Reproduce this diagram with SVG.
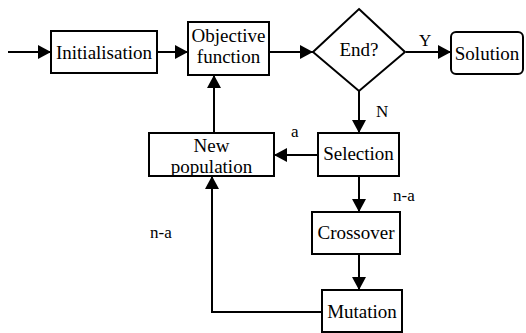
<svg xmlns="http://www.w3.org/2000/svg" width="526" height="333" viewBox="0 0 526 333">
<style>
.b{fill:#fff;stroke:#000;stroke-width:2}
.t{font-family:"Times New Roman","Liberation Serif",Tinos,serif;font-size:19px;fill:#000;text-anchor:middle}
.l{font-family:"Times New Roman","Liberation Serif",Tinos,serif;font-size:17px;fill:#000}
.c{fill:none;stroke:#000;stroke-width:2}
</style>
<defs>
<marker id="ah" markerWidth="13" markerHeight="14" viewBox="0 0 13 14" refX="13" refY="7" orient="auto" markerUnits="userSpaceOnUse">
<path d="M0,0 L13,7 L0,14 Z" fill="#000"/>
</marker>
</defs>
<rect width="526" height="333" fill="#fff"/>
<g id="connectors">
<path class="c" d="M8,52 H51" marker-end="url(#ah)"/>
<path class="c" d="M157,52 H188" marker-end="url(#ah)"/>
<path class="c" d="M269,52 H313" marker-end="url(#ah)"/>
<path class="c" d="M406,52 H451" marker-end="url(#ah)"/>
<path class="c" d="M359,91 V133" marker-end="url(#ah)"/>
<path class="c" d="M318,155 H274" marker-end="url(#ah)"/>
<path class="c" d="M214,133 V75" marker-end="url(#ah)"/>
<path class="c" d="M359,176 V212" marker-end="url(#ah)"/>
<path class="c" d="M359,254 V290" marker-end="url(#ah)"/>
<path class="c" d="M322,312 H212 V176" marker-end="url(#ah)"/>
</g>
<g id="initialisation">
<rect class="b" x="51" y="31" width="106" height="42"/>
<text class="t" x="104" y="59">Initialisation</text>
</g>
<g id="objective">
<rect class="b" x="188" y="22" width="81" height="53"/>
<text class="t" x="228.5" y="42">Objective</text>
<text class="t" x="228.5" y="63">function</text>
</g>
<g id="end">
<polygon class="b" points="359,9 405,52 359,91 313,52"/>
<text class="t" x="359" y="56">End?</text>
</g>
<g id="solution">
<rect class="b" x="451" y="32" width="72" height="42" rx="5"/>
<text class="t" x="487" y="60">Solution</text>
</g>
<g id="selection">
<rect class="b" x="318" y="133" width="81" height="43"/>
<text class="t" x="358.5" y="160">Selection</text>
</g>
<g id="newpop">
<rect class="b" x="149" y="133" width="125" height="43"/>
<text class="t" x="211.5" y="152">New</text>
<text class="t" x="211.5" y="173">population</text>
</g>
<g id="crossover">
<rect class="b" x="312" y="212" width="88" height="42"/>
<text class="t" x="356" y="239">Crossover</text>
</g>
<g id="mutation">
<rect class="b" x="322" y="290" width="80" height="42"/>
<text class="t" x="362" y="318">Mutation</text>
</g>
<g id="labels">
<text class="l" x="419" y="46">Y</text>
<text class="l" x="376" y="117">N</text>
<text class="l" x="291" y="137" font-size="14">a</text>
<text class="l" x="393" y="201">n-a</text>
<text class="l" x="150" y="238">n-a</text>
</g>
</svg>
